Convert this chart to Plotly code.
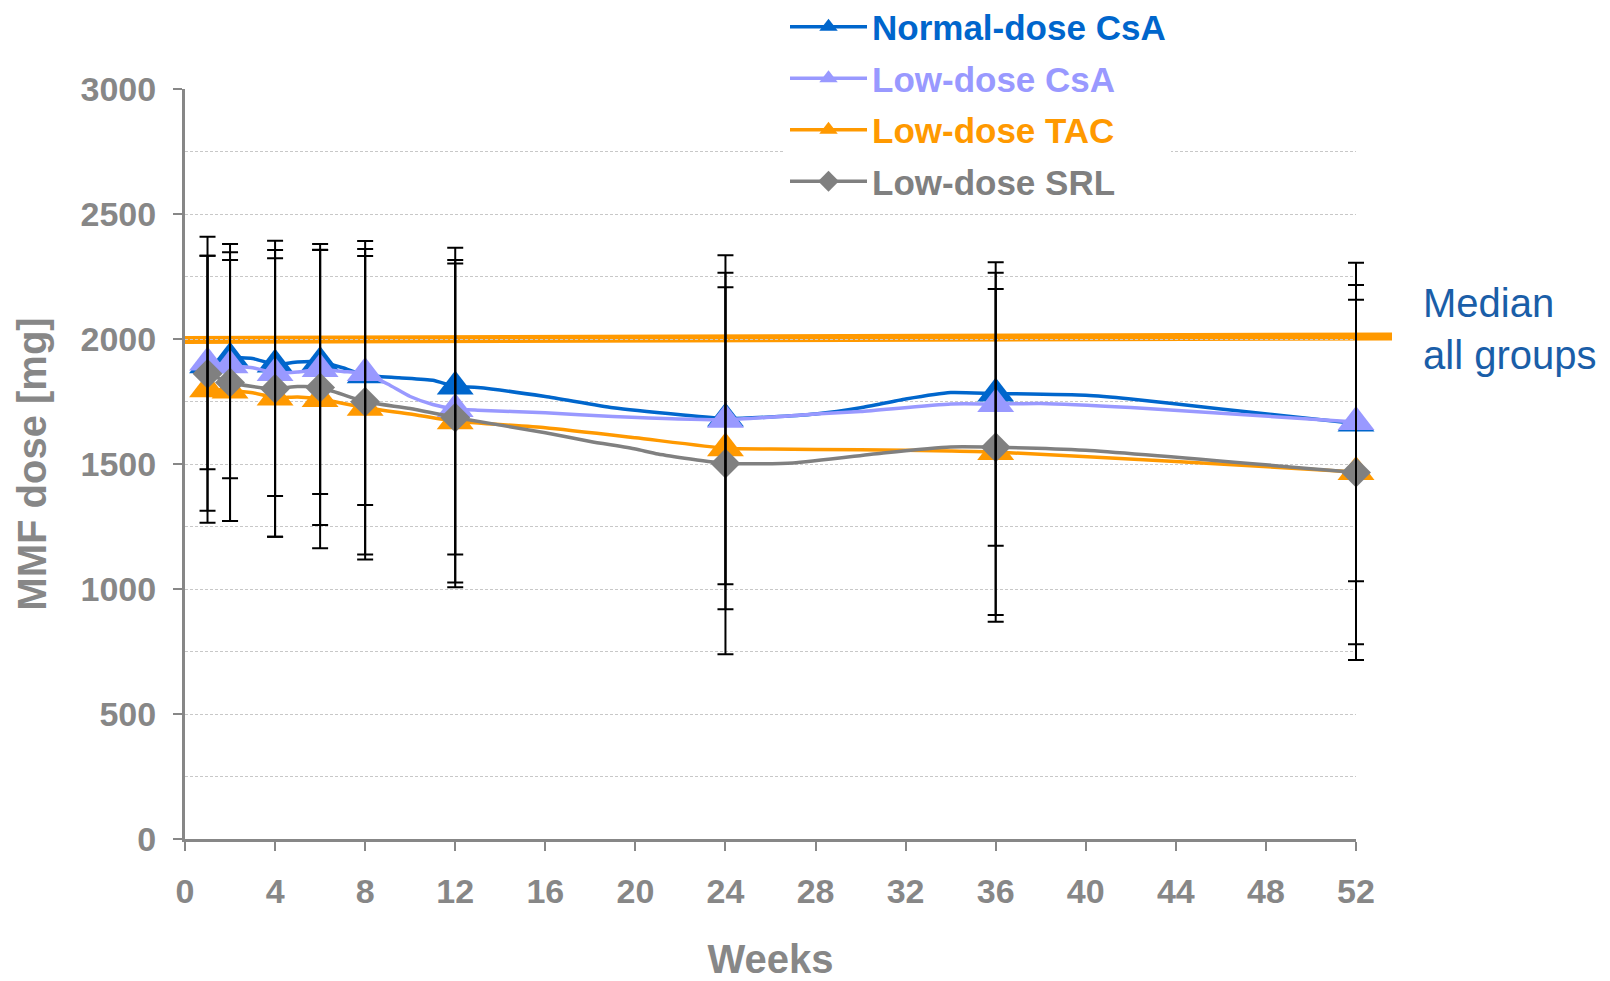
import plotly.graph_objects as go

# ---------------- data ----------------
weeks = [1, 2, 4, 6, 8, 12, 24, 36, 52]
x_ticks = [0, 4, 8, 12, 16, 20, 24, 28, 32, 36, 40, 44, 48, 52]
y_ticks = [0, 500, 1000, 1500, 2000, 2500, 3000]

series_names = ["Normal-dose CsA", "Low-dose CsA", "Low-dose TAC", "Low-dose SRL"]
series_colors = ["#0066CC", "#9999FF", "#FF9900", "#808080"]
series_symbols = ["triangle-up", "triangle-up", "triangle-up", "diamond"]

normal_csa = [1895, 1925, 1898, 1908, 1855, 1810, 1682, 1782, 1662]
low_csa = [1906, 1895, 1864, 1880, 1864, 1720, 1677, 1740, 1668]
low_tac = [1799, 1794, 1766, 1760, 1725, 1671, 1563, 1548, 1468]
low_srl = [1861, 1826, 1801, 1806, 1749, 1686, 1502, 1567, 1466]

# standard deviations (error bars); none drawn for normal-dose CsA
low_csa_sd = [427, 452, 492, 500, 528, 582, 658, 567, 637]
low_tac_sd = [534, 522, 557, 597, 607, 645, 644, 652, 689]
low_srl_sd = [548, 554, 592, 550, 611, 679, 763, 698, 750]

# smoothed connecting curves (vertices)
normal_csa_line_w = [1, 2, 3, 4, 5, 6, 7, 8, 9.5, 11, 12, 13, 16, 19, 22, 24, 26, 28, 30, 32, 34, 36, 40, 42, 46, 52]
normal_csa_line_v = [1895, 1925, 1922, 1898, 1908, 1908, 1885, 1855, 1845, 1835, 1810, 1806, 1770, 1725, 1697, 1682,
                     1688, 1700, 1725, 1760, 1786, 1782, 1775, 1760, 1720, 1662]
low_csa_line_w = [1, 2, 3, 4, 5, 6, 7, 8, 9, 10, 11, 12, 13, 16, 19, 24, 28, 30, 34, 36, 38, 42, 52]
low_csa_line_v = [1906, 1895, 1885, 1864, 1868, 1878, 1870, 1862, 1820, 1770, 1738, 1720, 1715, 1705, 1690, 1677,
                  1700, 1710, 1740, 1740, 1742, 1726, 1668]
low_tac_line_w = [1, 2, 3, 4, 5, 6, 8, 10, 12, 16, 20, 24, 26, 30, 34, 36, 44, 52]
low_tac_line_v = [1799, 1794, 1785, 1766, 1768, 1760, 1725, 1700, 1671, 1645, 1605, 1563, 1560, 1557, 1552, 1548,
                  1510, 1468]
low_srl_line_w = [1, 2, 3, 4, 5, 6, 8, 10, 12, 16, 18, 20, 21, 24, 27, 31, 34, 36, 40, 52]
low_srl_line_v = [1861, 1826, 1810, 1801, 1810, 1806, 1749, 1722, 1686, 1625, 1590, 1560, 1540, 1502, 1504, 1544,
                  1568, 1567, 1555, 1466]

median_label = "Median<br>all groups"
median_y = [1996, 2010]      # drawn median line, left / right end
median_x_end = 53.6          # the drawn line runs a bit past week 52

# ---------------- figure ----------------
FONT = "Liberation Sans, Arial, sans-serif"
GRAY = "#878787"

# layout geometry (figure is 1602x973; the page adds an 8px body margin)
FIG_W, FIG_H = 1602, 973
PLOT_L, PLOT_W, PLOT_T, PLOT_H = 177, 1171, 81, 750
EXTRA = 12                                  # room so error-bar caps at week 52 are not clipped
PAPER_W = PLOT_W + EXTRA
FRAC = PLOT_W / PAPER_W

markers = [normal_csa, low_csa, low_tac, low_srl]
lines_w = [normal_csa_line_w, low_csa_line_w, low_tac_line_w, low_srl_line_w]
lines_v = [normal_csa_line_v, low_csa_line_v, low_tac_line_v, low_srl_line_v]
sizes = [32, 32, 32, 23]

fig = go.Figure()

for i in range(4):
    fig.add_trace(go.Scatter(
        x=lines_w[i], y=lines_v[i], mode="lines",
        line=dict(color=series_colors[i], width=3.5, shape="spline", smoothing=0.5),
        showlegend=False, hoverinfo="skip"))
    fig.add_trace(go.Scatter(
        x=weeks, y=markers[i], mode="markers", cliponaxis=False,
        marker=dict(symbol=series_symbols[i], size=sizes[i], color=series_colors[i], line=dict(width=0)),
        showlegend=False, name=series_names[i]))

# error bars on top of everything (on a hidden, slightly wider subplot with identical scale)
for vals, sd in [(low_csa, low_csa_sd), (low_tac, low_tac_sd), (low_srl, low_srl_sd)]:
    fig.add_trace(go.Scatter(
        x=weeks, y=vals, mode="markers", cliponaxis=False, xaxis="x2", yaxis="y2",
        marker=dict(size=1, color="rgba(0,0,0,0)"),
        error_y=dict(type="data", array=sd, symmetric=True, color="black", thickness=2, width=8),
        showlegend=False, hoverinfo="skip"))

# legend entries
for i in range(4):
    fig.add_trace(go.Scatter(
        x=[None], y=[None], mode="lines+markers", legendgroup="g%d" % i,
        line=dict(color=series_colors[i], width=3.5),
        marker=dict(symbol=series_symbols[i], size=sizes[i], color=series_colors[i]),
        name="<span style='color:%s'><b>%s</b></span>" % (series_colors[i], series_names[i])))

# median line
fig.add_shape(type="line", xref="paper", yref="y",
              x0=0, x1=median_x_end / x_ticks[-1] * FRAC, y0=median_y[0], y1=median_y[1],
              line=dict(color="#FF9900", width=8), layer="between")

fig.add_annotation(xref="paper", yref="y", x=(1413 - PLOT_L) / PAPER_W, y=2042, text=median_label,
                   showarrow=False, xanchor="left", yanchor="middle", align="left",
                   font=dict(family=FONT, size=40, color="#1A5EA8"))

fig.update_layout(
    width=FIG_W, height=FIG_H,
    margin=dict(l=PLOT_L, r=FIG_W - PLOT_L - PAPER_W, t=PLOT_T, b=FIG_H - PLOT_T - PLOT_H, autoexpand=False),
    paper_bgcolor="white", plot_bgcolor="rgba(0,0,0,0)",
    font=dict(family=FONT, color=GRAY),
    xaxis=dict(range=[0, 52], domain=[0, FRAC], tickmode="array", tickvals=x_ticks,
               showgrid=False, zeroline=False,
               showline=True, linecolor=GRAY, linewidth=3,
               ticks="outside", ticklen=9, tickwidth=2, tickcolor=GRAY,
               tickfont=dict(family=FONT, size=34, color=GRAY, weight="bold"),
               ticklabelstandoff=11,
               title=dict(text="Weeks", font=dict(family=FONT, size=40, color=GRAY, weight="bold"), standoff=42)),
    xaxis2=dict(range=[0, 52 / FRAC], domain=[0, 1], anchor="y2", visible=False, showgrid=False),
    yaxis2=dict(range=[0, 3000], domain=[0, 1], anchor="x2", visible=False, showgrid=False),
    yaxis=dict(range=[0, 3000], tickmode="array", tickvals=y_ticks,
               zeroline=False,
               showline=True, linecolor=GRAY, linewidth=3,
               ticks="outside", ticklen=9, tickwidth=2, tickcolor=GRAY,
               tickfont=dict(family=FONT, size=34, color=GRAY, weight="bold"),
               ticklabelstandoff=10,
               showgrid=True, gridcolor="#C8C8C8", gridwidth=1, griddash="3px,2px",
               minor=dict(dtick=250, showgrid=True, gridcolor="#C8C8C8", gridwidth=1, griddash="3px,2px", ticks=""),
               title=dict(text="MMF dose [mg]", font=dict(family=FONT, size=40, color=GRAY, weight="bold"), standoff=22)),
    legend=dict(x=(777 - PLOT_L) / PAPER_W, y=1.122, xanchor="left", yanchor="top",
                bgcolor="white", borderwidth=0, itemwidth=77,
                font=dict(family=FONT, size=35), tracegroupgap=3),
)

fig.write_html("out.html")
